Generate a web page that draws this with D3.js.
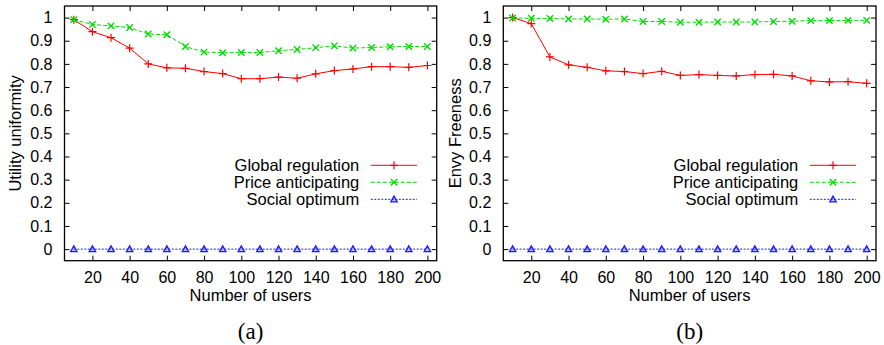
<!DOCTYPE html>
<html>
<head>
<meta charset="utf-8">
<script src="https://cdn.jsdelivr.net/npm/d3@7"></script>
<style>
  html, body { margin: 0; padding: 0; background: #fff; }
  svg { display: block; }
  text { font-family: "Liberation Sans", Arial, Helvetica, sans-serif; fill: #000; }
  .caption { font-family: "Liberation Serif", "DejaVu Serif", serif; }
</style>
</head>
<body>
<svg id="chart" width="884" height="345"></svg>
<script>
// Number of users on the x axis
const users = [10, 20, 30, 40, 50, 60, 70, 80, 90, 100, 110, 120, 130, 140, 150, 160, 170, 180, 190, 200];

// (a) Utility uniformity
const uniformityGlobal = [0.991, 0.939, 0.913, 0.868, 0.800, 0.783, 0.781, 0.767, 0.758, 0.736,
                          0.736, 0.743, 0.738, 0.757, 0.771, 0.778, 0.788, 0.788, 0.785, 0.793];
const uniformityPrice  = [0.991, 0.970, 0.964, 0.957, 0.929, 0.926, 0.875, 0.851, 0.848, 0.849,
                          0.849, 0.857, 0.862, 0.870, 0.878, 0.868, 0.871, 0.874, 0.875, 0.875];
const uniformitySocial = [0, 0, 0, 0, 0, 0, 0, 0, 0, 0, 0, 0, 0, 0, 0, 0, 0, 0, 0, 0];

// (b) Envy freeness
const envyGlobal = [1.000, 0.974, 0.830, 0.796, 0.785, 0.770, 0.767, 0.758, 0.768, 0.750,
                    0.754, 0.750, 0.748, 0.754, 0.755, 0.748, 0.727, 0.722, 0.723, 0.716];
const envyPrice  = [0.998, 0.997, 0.996, 0.994, 0.994, 0.993, 0.994, 0.983, 0.983, 0.980,
                    0.980, 0.981, 0.981, 0.981, 0.983, 0.984, 0.987, 0.987, 0.988, 0.988];
const envySocial = [0, 0, 0, 0, 0, 0, 0, 0, 0, 0, 0, 0, 0, 0, 0, 0, 0, 0, 0, 0];

// Series names and tick labels
const seriesNames = ["Global regulation", "Price anticipating", "Social optimum"];
const xTicks = [20, 40, 60, 80, 100, 120, 140, 160, 180, 200];
const yTicks = [0, 0.1, 0.2, 0.3, 0.4, 0.5, 0.6, 0.7, 0.8, 0.9, 1];

const seriesStyle = [
  { color: "#ff0000", dash: null,  marker: "plus" },
  { color: "#00dd00", dash: "4,2", marker: "cross" },
  { color: "#1a1aff", dash: "2,1.5", marker: "triangle" }
];

const svg = d3.select("#chart");

function drawMarker(g, type, x, y, color) {
  if (type === "plus") {
    g.append("path")
      .attr("d", `M${x - 4},${y}H${x + 4}M${x},${y - 4}V${y + 4}`)
      .attr("stroke", color).attr("stroke-width", 1.2).attr("fill", "none");
  } else if (type === "cross") {
    const s = 3.2;
    g.append("path")
      .attr("d", `M${x - s},${y - s}L${x + s},${y + s}M${x - s},${y + s}L${x + s},${y - s}`)
      .attr("stroke", color).attr("stroke-width", 1.4).attr("fill", "none");
  } else {
    const s = 3.2;
    g.append("path")
      .attr("d", `M${x},${y - s}L${x + s},${y + s * 0.8}L${x - s},${y + s * 0.8}Z`)
      .attr("stroke", color).attr("stroke-width", 1.3).attr("fill", "rgba(40,40,255,0.25)");
  }
}

function drawPanel(opts) {
  const { left, right, top, bottom, series, yTitle, yTitleX, caption, legendRight } = opts;

  const x = d3.scaleLinear().domain([5, 205]).range([left, right]);
  const y = d3.scaleLinear().domain([-0.05, 1.05]).range([bottom, top]);

  const g = svg.append("g");

  // Data lines with markers
  series.forEach((vals, i) => {
    const st = seriesStyle[i];
    const line = d3.line().x((d, k) => x(users[k])).y(d => y(d));
    g.append("path")
      .datum(vals)
      .attr("d", line)
      .attr("fill", "none")
      .attr("stroke", st.color)
      .attr("stroke-width", 1)
      .attr("stroke-dasharray", st.dash);
    vals.forEach((v, k) => drawMarker(g, st.marker, x(users[k]), y(v), st.color));
  });

  // Axes with inward ticks, mirrored on all four sides
  const tickLen = 5;
  g.append("g")
    .attr("transform", `translate(0,${bottom})`)
    .call(d3.axisBottom(x).tickValues(xTicks).tickSizeInner(-tickLen).tickSizeOuter(0).tickPadding(11))
    .call(a => a.select(".domain").remove())
    .call(a => a.selectAll("text").attr("font-size", 16).attr("font-family", "Liberation Sans, Arial, sans-serif"));
  g.append("g")
    .attr("transform", `translate(0,${top})`)
    .call(d3.axisTop(x).tickValues(xTicks).tickSizeInner(-tickLen).tickSizeOuter(0).tickFormat(""))
    .call(a => a.select(".domain").remove());
  g.append("g")
    .attr("transform", `translate(${left},0)`)
    .call(d3.axisLeft(y).tickValues(yTicks).tickSizeInner(-tickLen).tickSizeOuter(0).tickPadding(12)
      .tickFormat(d3.format("")))
    .call(a => a.select(".domain").remove())
    .call(a => a.selectAll("text").attr("font-size", 16).attr("font-family", "Liberation Sans, Arial, sans-serif"));
  g.append("g")
    .attr("transform", `translate(${right},0)`)
    .call(d3.axisRight(y).tickValues(yTicks).tickSizeInner(-tickLen).tickSizeOuter(0).tickFormat(""))
    .call(a => a.select(".domain").remove());

  // Frame
  g.append("rect")
    .attr("x", left).attr("y", top)
    .attr("width", right - left).attr("height", bottom - top)
    .attr("fill", "none").attr("stroke", "#000").attr("stroke-width", 1.3);

  // Axis titles
  g.append("text")
    .attr("transform", `translate(${yTitleX},${(top + bottom) / 2}) rotate(-90)`)
    .attr("text-anchor", "middle").attr("dominant-baseline", "central")
    .attr("font-size", 16.5)
    .text(yTitle);
  g.append("text")
    .attr("x", (left + right) / 2).attr("y", 300.5)
    .attr("text-anchor", "middle").attr("font-size", 16.5)
    .text("Number of users");

  // Legend
  const legendRows = [165.3, 182.3, 199.3];
  seriesNames.forEach((name, i) => {
    const st = seriesStyle[i];
    const ly = legendRows[i];
    g.append("text")
      .attr("x", legendRight).attr("y", ly)
      .attr("text-anchor", "end").attr("dominant-baseline", "central")
      .attr("font-size", 16.5)
      .text(name);
    g.append("line")
      .attr("x1", legendRight + 11.5).attr("x2", legendRight + 57.7)
      .attr("y1", ly).attr("y2", ly)
      .attr("stroke", st.color).attr("stroke-width", 1)
      .attr("stroke-dasharray", st.dash);
    drawMarker(g, st.marker, legendRight + 34.7, ly, st.color);
  });

  // Caption
  svg.append("text")
    .attr("class", "caption")
    .attr("x", (left + right) / 2).attr("y", 339)
    .attr("text-anchor", "middle").attr("font-size", 23)
    .text(caption);
}

drawPanel({
  left: 64.5, right: 436.7, top: 6, bottom: 260.7,
  series: [uniformityGlobal, uniformityPrice, uniformitySocial],
  yTitle: "Utility uniformity", yTitleX: 15,
  caption: "(a)", legendRight: 359.3
});

drawPanel({
  left: 503.3, right: 876, top: 6, bottom: 260.7,
  series: [envyGlobal, envyPrice, envySocial],
  yTitle: "Envy Freeness", yTitleX: 455,
  caption: "(b)", legendRight: 798.3
});
</script>
</body>
</html>
